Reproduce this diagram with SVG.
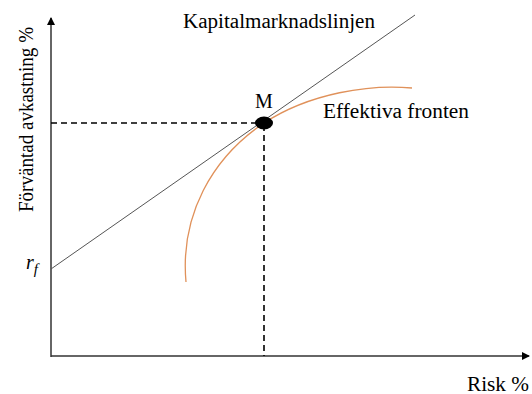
<svg xmlns="http://www.w3.org/2000/svg" width="532" height="394" viewBox="0 0 532 394">
<style>
text{font-family:"Liberation Serif","Times New Roman",serif;fill:#000;font-size:20px}
.axis{stroke:#333;stroke-width:1.5;fill:none}
.dash{stroke:#000;stroke-width:1.6;stroke-dasharray:6,4;fill:none}
</style>
<defs>
<marker id="arr" markerWidth="8" markerHeight="8" refX="7" refY="4" orient="auto" markerUnits="userSpaceOnUse">
<path d="M0,0 L8,4 L0,8 Z" fill="#000"/>
</marker>
</defs>
<rect width="532" height="394" fill="#fff"/>
<g id="connectors">
<line class="axis" x1="51" y1="357" x2="51" y2="18" marker-end="url(#arr)"/>
<line class="axis" x1="51" y1="356" x2="529" y2="356" marker-end="url(#arr)"/>
<line x1="51" y1="269" x2="415" y2="15" stroke="#555" stroke-width="1"/>
<line class="dash" x1="51" y1="123" x2="262" y2="123"/>
<line class="dash" x1="264" y1="125" x2="264" y2="356"/>
<path d="M186,282 C180,215 212,158 264,123 C310,93 370,84 412,88" fill="none" stroke="#e0915a" stroke-width="1.3"/>
</g>
<g id="M">
<ellipse cx="264" cy="123" rx="9" ry="6.5" fill="#000"/>
<text x="264" y="108" text-anchor="middle">M</text>
</g>
<g id="labels">
<text x="183" y="28" textLength="192" lengthAdjust="spacingAndGlyphs">Kapitalmarknadslinjen</text>
<text x="323" y="118" textLength="146" lengthAdjust="spacingAndGlyphs">Effektiva  fronten</text>
<text x="467" y="391" textLength="62" lengthAdjust="spacingAndGlyphs">Risk %</text>
<text transform="translate(33,212) rotate(-90)" textLength="185" lengthAdjust="spacingAndGlyphs">Förväntad avkastning %</text>
<text x="26" y="269" font-size="22" font-style="italic">r<tspan font-size="15" dy="5">f</tspan></text>
</g>
</svg>
